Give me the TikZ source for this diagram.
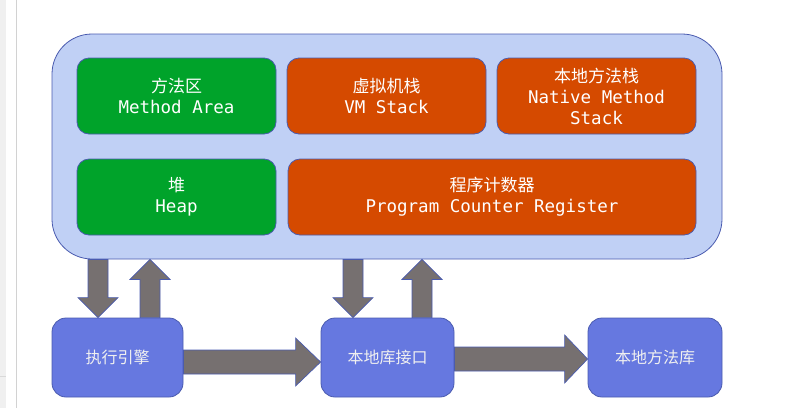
\documentclass[tikz,border=0pt]{standalone}
\usepackage{fontspec}
\newfontfamily\cjk{Noto Sans CJK SC}
\setmonofont{DejaVu Sans Mono}
\usetikzlibrary{calc}
\definecolor{contfill}{HTML}{C0D0F5}
\definecolor{edge}{HTML}{4A5BAF}
\definecolor{grn}{HTML}{00A32A}
\definecolor{org}{HTML}{D54A00}
\definecolor{blu}{HTML}{6678E0}
\definecolor{arr}{HTML}{767070}
\tikzset{
  area/.style={draw=edge, line width=0.8pt, rounded corners=12pt, minimum height=76pt, inner sep=0pt, text=white, align=center, font=\fontsize{17pt}{21pt}\selectfont},
  greenbox/.style={area, fill=grn, minimum width=199pt},
  orangebox/.style={area, fill=org},
  bottombox/.style={draw=edge, line width=0.8pt, fill=blu, rounded corners=14pt, minimum height=79pt, inner sep=0pt, text=white!94!black, font=\cjk\fontsize{16pt}{20pt}\selectfont},
  bigarr/.style={draw=edge, line width=0.7pt, fill=arr, line join=miter},
}
\begin{document}
\begin{tikzpicture}[x=1pt,y=-1pt]
\useasboundingbox (0,0) rectangle (797,408);
% page chrome
\fill[gray!12] (0,0) rectangle (6,408);
\draw[gray!35, line width=0.8pt] (16,0) -- (16,408);
\draw[gray!30, line width=0.6pt] (0,376) -- (6,376);
% container
\node[draw=edge, line width=0.8pt, fill=contfill, rounded corners=40pt, minimum width=670pt, minimum height=225pt, inner sep=0pt] (cont) at (387,146.5) {};
% inner areas
\node[greenbox] (ma) at (176.5,96) {{\cjk 方法区}\\{\ttfamily\fontsize{17.5pt}{21pt}\selectfont Method Area}};
\node[orangebox, minimum width=199pt] (vm) at (386.5,96) {{\cjk 虚拟机栈}\\{\ttfamily\fontsize{17.5pt}{21pt}\selectfont VM Stack}};
\node[orangebox, minimum width=199pt] (nm) at (596.5,96) {{\cjk 本地方法栈}\\{\ttfamily\fontsize{17.5pt}{21pt}\selectfont Native Method}\\{\ttfamily\fontsize{17.5pt}{21pt}\selectfont Stack}};
\node[greenbox] (heap) at (176.5,197) {{\cjk 堆}\\{\ttfamily\fontsize{17.5pt}{21pt}\selectfont Heap}};
\node[orangebox, minimum width=408pt] (pc) at (492,197) {{\cjk 程序计数器}\\{\ttfamily\fontsize{17.5pt}{21pt}\selectfont Program Counter Register}};
% bottom boxes
\node[bottombox, minimum width=131pt] (exec) at (117.5,357.5) {执行引擎};
\node[bottombox, minimum width=133pt] (iface) at (387.5,357.5) {本地库接口};
\node[bottombox, minimum width=134pt] (lib) at (655,357.5) {本地方法库};
% vertical arrows: container <-> exec
\draw[bigarr] let \p1=(cont.south), \p2=(exec.north) in
  (88pt,\y1) -- (108pt,\y1) -- (108pt,\y2+20pt) -- (118pt,\y2+20pt) -- (98pt,\y2) -- (78pt,\y2+20pt) -- (88pt,\y2+20pt) -- cycle;
\draw[bigarr] let \p1=(cont.south), \p2=(exec.north) in
  (140pt,\y2) -- (160pt,\y2) -- (160pt,\y1-20pt) -- (170pt,\y1-20pt) -- (150pt,\y1) -- (130pt,\y1-20pt) -- (140pt,\y1-20pt) -- cycle;
% vertical arrows: container <-> iface
\draw[bigarr] let \p1=(cont.south), \p2=(iface.north) in
  (343pt,\y1) -- (363pt,\y1) -- (363pt,\y2+20pt) -- (373pt,\y2+20pt) -- (353pt,\y2) -- (333pt,\y2+20pt) -- (343pt,\y2+20pt) -- cycle;
\draw[bigarr] let \p1=(cont.south), \p2=(iface.north) in
  (412pt,\y2) -- (432pt,\y2) -- (432pt,\y1-20pt) -- (442pt,\y1-20pt) -- (422pt,\y1) -- (402pt,\y1-20pt) -- (412pt,\y1-20pt) -- cycle;
% horizontal arrows
\draw[bigarr] let \p1=(exec.east), \p2=(iface.west) in
  (\x1,-350pt) -- (\x2-25pt,-350pt) -- (\x2-25pt,-338pt) -- (\x2,-362pt) -- (\x2-25pt,-386pt) -- (\x2-25pt,-374pt) -- (\x1,-374pt) -- cycle;
\draw[bigarr] let \p1=(iface.east), \p2=(lib.west) in
  (\x1,-347pt) -- (\x2-23pt,-347pt) -- (\x2-23pt,-335pt) -- (\x2,-359pt) -- (\x2-23pt,-383pt) -- (\x2-23pt,-371pt) -- (\x1,-371pt) -- cycle;
\end{tikzpicture}
\end{document}
